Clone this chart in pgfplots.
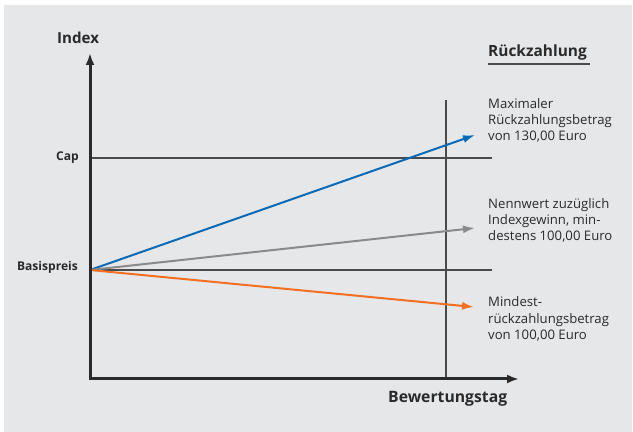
\documentclass[border=0pt]{standalone}
\usepackage{pgfplots}
\pgfplotsset{compat=1.18}
\usepackage{fontspec}
\setmainfont{Open Sans}
\usetikzlibrary{arrows.meta}
\definecolor{bg}{HTML}{E6E7E9}
\definecolor{txt}{HTML}{2A2A2A}
\definecolor{ln}{HTML}{4A4A4A}
\definecolor{bl}{HTML}{0A6AB6}
\definecolor{gr}{HTML}{8A8A8A}
\definecolor{og}{HTML}{F36F21}
\begin{document}
\begin{tikzpicture}
\begin{axis}[width=633bp,height=432bp,scale only axis,
  xmin=0,xmax=633,ymin=0,ymax=432,hide axis,clip=false]
% background
\addplot[fill=white,draw=none] coordinates {(0,0)(633,0)(633,432)(0,432)} \closedcycle;
\addplot[fill=bg,draw=none] coordinates {(4,0)(632,0)(632,427)(4,427)} \closedcycle;
% reference lines
\addplot[ln,line width=1.4bp] coordinates {(90,274)(492,274)};
\addplot[ln,line width=1.4bp] coordinates {(90,162)(492,162)};
\addplot[ln,line width=1.4bp] coordinates {(446,53)(446,332)};
% payoff lines
\addplot[bl,line width=2bp,-{Latex[length=12bp,width=8bp]}] coordinates {(90,162)(475,297)};
\addplot[gr,line width=2bp,-{Latex[length=12bp,width=8bp]}] coordinates {(90,162)(475,204)};
\addplot[og,line width=2bp,-{Latex[length=12bp,width=8bp]}] coordinates {(90,162)(474,125)};
% axes
\addplot[txt,line width=3bp,-{Latex[length=12bp,width=9bp]}] coordinates {(90,51.5)(90,379)};
\addplot[txt,line width=3bp,-{Latex[length=12bp,width=9bp]}] coordinates {(88.5,53)(519,53)};
% labels
\node[anchor=base west,inner sep=0,text=txt,font=\fontsize{15.2}{17}\selectfont\bfseries] at (axis cs:57,388) {Index};
\node[anchor=base east,inner sep=0,text=txt,font=\fontsize{12.1}{14}\selectfont\bfseries] at (axis cs:79,271) {Cap};
\node[anchor=base east,inner sep=0,text=txt,font=\fontsize{12.1}{14}\selectfont\bfseries] at (axis cs:78,161) {Basispreis};
\node[anchor=base west,inner sep=0,text=txt,font=\fontsize{15.8}{17}\selectfont\bfseries] at (axis cs:388,30) {Bewertungstag};
\node[anchor=base west,inner sep=0,text=txt,font=\fontsize{15.5}{17}\selectfont\bfseries] at (axis cs:488,375) {Rückzahlung};
\addplot[ln,line width=1.3bp] coordinates {(488,368)(590,368)};
\begin{scope}[every node/.style={anchor=base west,inner sep=0,text=txt,font=\fontsize{13.2}{16}\selectfont}]
\node at (axis cs:488,323) {Maximaler};
\node at (axis cs:488,307) {Rückzahlungsbetrag};
\node at (axis cs:488,291) {von 130,00 Euro};
\node at (axis cs:488,223) {Nennwert zuzüglich};
\node at (axis cs:488,207) {Indexgewinn, min-};
\node at (axis cs:488,191) {destens 100,00 Euro};
\node at (axis cs:488,125) {Mindest-};
\node at (axis cs:488,108) {rückzahlungsbetrag};
\node at (axis cs:488,92) {von 100,00 Euro};
\end{scope}
\end{axis}
\end{tikzpicture}
\end{document}
